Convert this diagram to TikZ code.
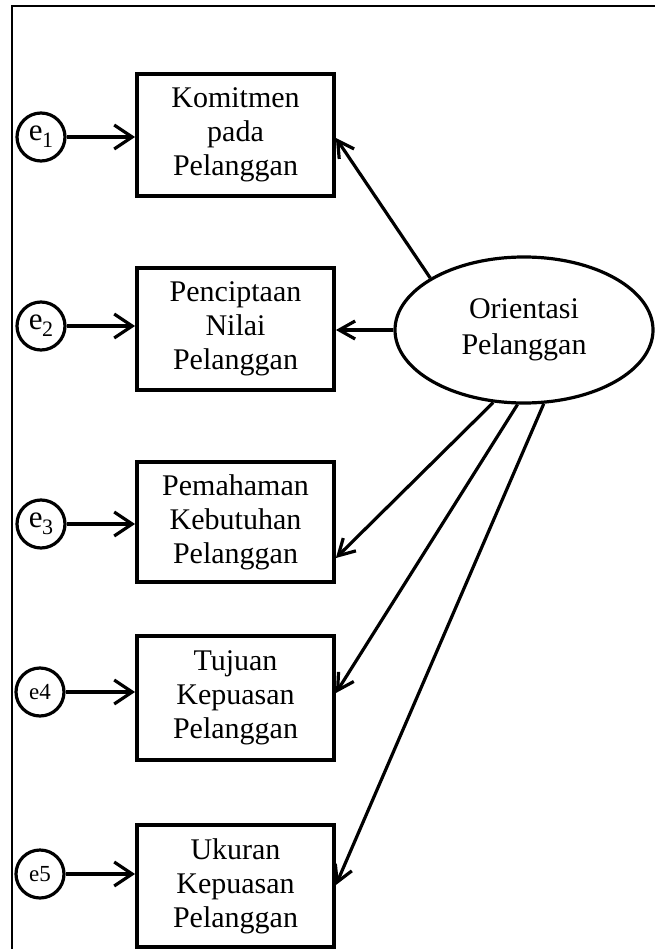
\documentclass[tikz,border=0pt]{standalone}
\usepackage{fontspec}
\setmainfont{Liberation Serif}
\usetikzlibrary{arrows.meta,shapes.geometric}

\newcommand{\errlab}[1]{{\fontsize{31}{31}\selectfont e\kern-0.5pt\raisebox{-7pt}{\fontsize{22}{22}\selectfont #1}}}

\tikzset{
  indicator/.style={draw, line width=3.8pt, minimum width=197pt, minimum height=122pt,
    inner sep=0pt, align=center, font=\fontsize{30}{34}\selectfont},
  errnode/.style={draw, circle, line width=3.2pt, minimum size=48pt, inner sep=0pt},
  latent/.style={draw, ellipse, line width=3.2pt, minimum width=258pt, minimum height=146pt,
    inner sep=0pt, align=center, font=\fontsize{30}{36}\selectfont},
  errarrow/.style={line width=3.2pt, -{Straight Barb[length=18pt, width=24pt]}},
  loadarrow/.style={line width=3.2pt, -{Straight Barb[length=16pt, width=18pt]}},
  frameline/.style={line width=1.6pt}
}

\begin{document}
\begin{tikzpicture}[x=1pt, y=-1pt]
\useasboundingbox (0,0) rectangle (655,949);

% outer frame (top and left edges)
\draw[frameline] (12,949) -- (12,6) -- (655,6);

% observed indicators
\node[indicator] (b1) at (235.5,135) {Komitmen\\pada\\Pelanggan};
\node[indicator] (b2) at (235.5,329) {Penciptaan\\Nilai\\Pelanggan};
\node[indicator, minimum height=120pt] (b3) at (235.5,522) {Pemahaman\\Kebutuhan\\Pelanggan};
\node[indicator, minimum height=124pt] (b4) at (235.5,698) {Tujuan\\Kepuasan\\Pelanggan};
\node[indicator] (b5) at (235.5,886) {Ukuran\\Kepuasan\\Pelanggan};

% error terms
\node[errnode] (e1) at (41,137) {\errlab{1}};
\node[errnode] (e2) at (41,326) {\errlab{2}};
\node[errnode] (e3) at (41,524) {\errlab{3}};
\node[errnode, font=\fontsize{23}{23}\selectfont] (e4) at (40,692) {e4};
\node[errnode, font=\fontsize{23}{23}\selectfont] (e5) at (40,874) {e5};

% latent construct
\node[latent] (lat) at (524,330) {Orientasi\\Pelanggan};

% error arrows
\draw[errarrow] (e1.east) -- (e1.east -| b1.west);
\draw[errarrow] (e2.east) -- (e2.east -| b2.west);
\draw[errarrow] (e3.east) -- (e3.east -| b3.west);
\draw[errarrow] (e4.east) -- (e4.east -| b4.west);
\draw[errarrow] (e5.east) -- (e5.east -| b5.west);

% loadings
\coordinate (t1) at (b1.east |- 0,138);
\coordinate (t2) at (b2.east |- 0,330);
\coordinate (t3) at (b3.east |- 0,558);
\coordinate (t4) at (b4.east |- 0,693);
\coordinate (t5) at (b5.east |- 0,885);
\draw[loadarrow] (lat.151.6) -- (t1);
\draw[loadarrow] (lat.180) -- (t2);
\draw[loadarrow] (lat.247.7) -- (t3);
\draw[loadarrow] (lat.265) -- (t4);
\draw[loadarrow] (lat.285) -- (t5);
\end{tikzpicture}
\end{document}
